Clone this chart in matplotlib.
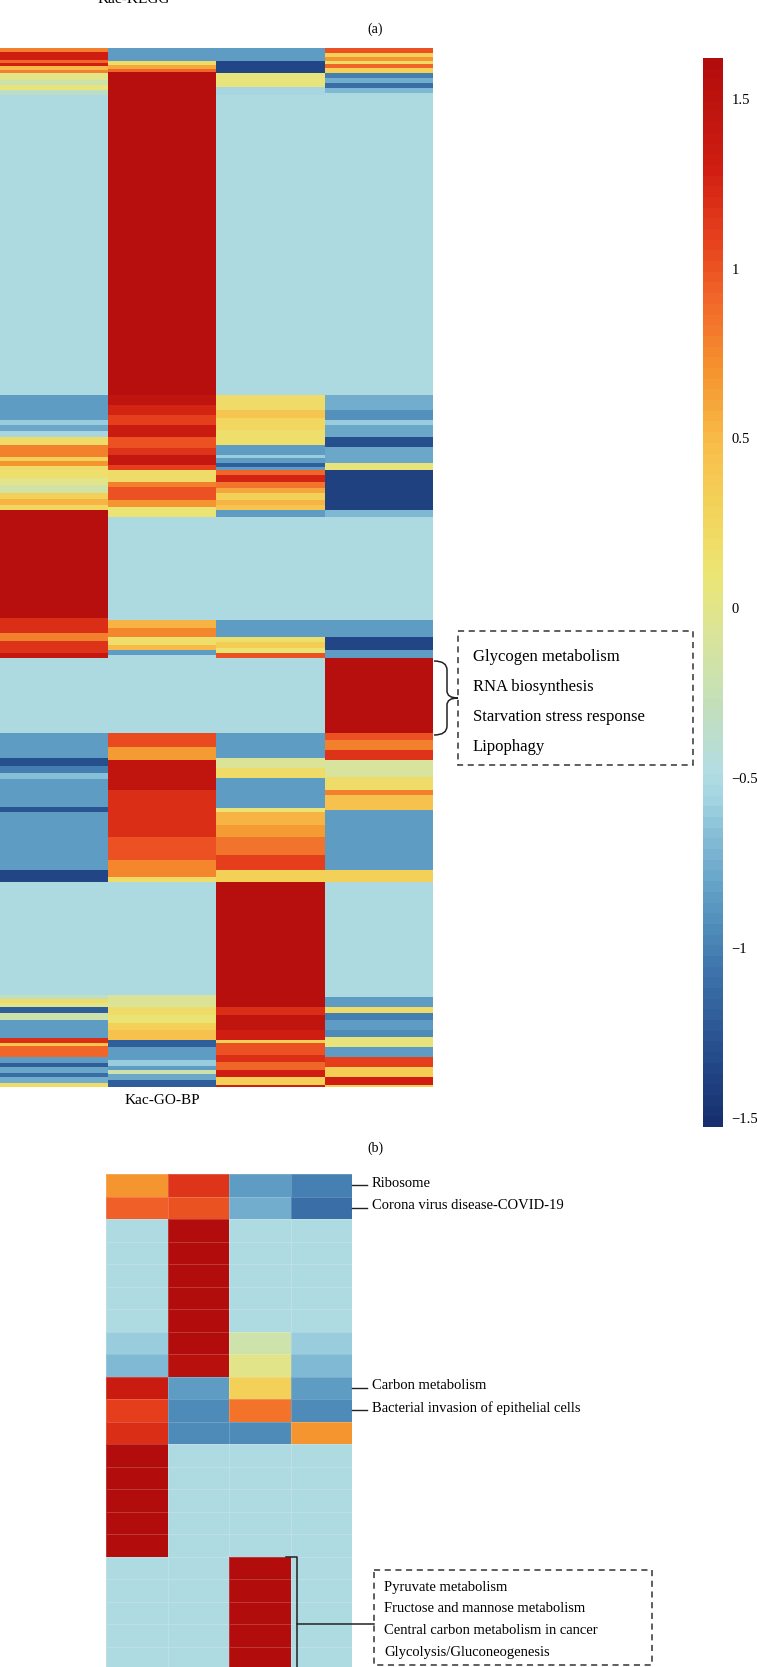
import matplotlib
matplotlib.use('Agg')
import matplotlib.pyplot as plt
import numpy as np
from matplotlib.colors import LinearSegmentedColormap, Normalize
from matplotlib.patches import Rectangle, PathPatch
from matplotlib.path import Path

plt.rcParams['font.family'] = ['Liberation Serif', 'DejaVu Serif']

# ---- panel (a): Kac-GO-BP, each cluster column as runs (end row, z-score) ----
a_ends_1 = [4, 12, 15, 18, 22, 25, 32, 37, 42, 47, 347, 372, 377, 383, 389, 397, 409, 413, 418, 422,
            430, 437, 445, 451, 457, 462, 570, 585, 593, 605, 610, 685, 710, 718, 725, 731, 759, 764,
            822, 834, 947, 951, 955, 959, 965, 972, 990, 995, 998, 1009, 1015, 1019, 1025, 1029, 1035, 1039]
a_vals_1 = [0.8, 1.3, 0.9, 1.3, 0.5, 0.8, 0.0, -0.2, 0.05, -0.35, -0.5, -0.85, -0.6, -0.8, -0.55, 0.2,
            0.8, 0.3, 0.7, 0.2, 0.15, 0.0, -0.15, 0.3, 0.55, 0.25, 1.55, 1.2, 0.8, 1.15, 1.4, -0.5, -0.85,
            -1.3, -1.0, -0.65, -0.85, -1.25, -0.85, -1.35, -0.5, -0.3, 0.2, 0.0, -1.2, -0.2, -0.85, 1.2,
            0.4, 0.9, -0.85, -1.2, -0.8, -1.1, -0.75, 0.2]

a_ends_2 = [13, 17, 21, 24, 347, 357, 367, 377, 389, 400, 407, 417, 422, 434, 439, 452, 459, 469, 572,
            580, 589, 597, 602, 607, 685, 699, 712, 742, 789, 812, 829, 834, 947, 959, 967, 975, 982,
            992, 999, 1012, 1018, 1022, 1026, 1032, 1039]
a_vals_2 = [-0.85, 0.2, 0.6, 0.9, 1.55, 1.45, 1.25, 1.1, 1.35, 1.0, 1.15, 1.4, 1.1, 0.2, 0.8, 1.0, 0.7,
            0.1, -0.5, 0.55, 0.75, 0.15, 0.5, -0.85, -0.5, 1.05, 0.65, 1.45, 1.2, 1.0, 0.75, 0.2, -0.5,
            -0.05, 0.2, 0.1, 0.3, 0.45, -1.2, -0.85, -0.6, -0.85, -0.2, -0.8, -1.2]

a_ends_3 = [13, 25, 39, 47, 347, 362, 370, 382, 397, 407, 410, 415, 419, 422, 427, 434, 440, 445, 452,
            457, 462, 469, 572, 589, 594, 600, 605, 610, 685, 710, 720, 730, 760, 764, 777, 789, 807,
            822, 834, 959, 967, 982, 992, 995, 1007, 1014, 1022, 1029, 1037, 1039]
a_vals_3 = [-0.85, -1.35, 0.05, -0.55, -0.5, 0.2, 0.4, 0.25, 0.15, -0.85, -0.6, -0.85, -1.2, -0.85,
            0.9, 1.25, 0.85, 0.6, 0.3, 0.55, 0.4, -0.85, -0.5, -0.85, 0.15, 0.35, 0.1, 1.0, -0.5, -0.85,
            -0.05, 0.2, -0.85, 0.1, 0.55, 0.65, 0.85, 1.1, 0.3, 1.55, 1.2, 1.45, 1.3, 0.3, 1.0, 1.2, 0.9,
            1.3, 0.3, 1.3]

a_ends_4 = [5, 9, 13, 16, 20, 25, 30, 35, 40, 45, 347, 362, 372, 377, 389, 399, 415, 422, 462, 469,
            572, 589, 602, 610, 685, 692, 702, 712, 729, 742, 747, 762, 822, 834, 949, 959, 965, 972,
            982, 989, 999, 1009, 1019, 1029, 1037, 1039]
a_vals_4 = [1.0, 0.3, 0.7, 0.2, 0.9, 0.3, -1.0, -0.75, -1.1, -0.7, -0.5, -0.75, -0.9, -0.6, -0.8, -1.3,
            -0.8, 0.05, -1.4, -0.7, -0.5, -0.85, -1.35, -0.85, 1.55, 1.0, 0.8, 1.15, -0.1, 0.2, 0.8, 0.45,
            -0.85, 0.3, -0.5, -0.85, 0.2, -1.0, -0.85, -0.95, 0.05, -0.85, 1.1, 0.35, 1.3, 0.3]

a_terms = ['Glycogen metabolism', 'RNA biosynthesis', 'Starvation stress response', 'Lipophagy']

# ---- panel (b): Kac-KEGG, one value per pathway row and cluster ----
b_col1 = [0.7, 0.95, -0.5, -0.5, -0.5, -0.5, -0.5, -0.6, -0.68, 1.35, 1.1, 1.2,
          1.6, 1.6, 1.6, 1.6, 1.6, -0.5, -0.5, -0.5, -0.5, -0.5, -0.5]
b_col2 = [1.15, 1.0, 1.6, 1.6, 1.6, 1.6, 1.6, 1.6, 1.55, -0.85, -0.95, -0.95,
          -0.5, -0.5, -0.5, -0.5, -0.5, -0.5, -0.5, -0.5, -0.5, -0.5, -0.5]
b_col3 = [-0.85, -0.75, -0.5, -0.5, -0.5, -0.5, -0.5, -0.2, 0.0, 0.3, 0.85, -0.95,
          -0.5, -0.5, -0.5, -0.5, -0.5, 1.6, 1.6, 1.6, 1.6, 1.6, 1.6]
b_col4 = [-1.0, -1.1, -0.5, -0.5, -0.5, -0.5, -0.5, -0.6, -0.68, -0.85, -0.95, 0.7,
          -0.5, -0.5, -0.5, -0.5, -0.5, -0.5, -0.5, -0.5, -0.5, -0.5, -0.5]
b_row_labels = ['Ribosome', 'Corona virus disease-COVID-19', 'Carbon metabolism',
                'Bacterial invasion of epithelial cells']
b_label_rows = [0, 1, 9, 10]
b_terms = ['Pyruvate metabolism', 'Fructose and mannose metabolism',
           'Central carbon metabolism in cancer', 'Glycolysis/Gluconeogenesis']

cbar_ticks = [-1.5, -1, -0.5, 0, 0.5, 1, 1.5]
cbar_labels = ['\u22121.5', '\u22121', '\u22120.5', '0', '0.5', '1', '1.5']

# colour scale (blue - light blue - yellow - red)
vmin, vmax = -1.527, 1.62
cm_nodes = [-1.527, -1.3, -1.1, -0.9, -0.7, -0.57, -0.48, -0.3, -0.1, 0.1, 0.3, 0.5, 0.7, 0.9, 1.1, 1.3, 1.62]
cm_cols = ['#172f6e', '#27508f', '#3a70a8', '#5795bf', '#7fb9d4', '#a3d4e0', '#b3dde2', '#c2dfbc',
           '#d8e49e', '#ece574', '#f3d35a', '#f8bb48', '#f5952f', '#f26a2a', '#e6401d', '#d01f12', '#b20c0c']
pos = [(v - vmin) / (vmax - vmin) for v in cm_nodes]
cmap = LinearSegmentedColormap.from_list('zs', list(zip(pos, cm_cols)), N=100)
norm = Normalize(vmin=vmin, vmax=vmax)

W, H = 757, 1667
fig = plt.figure(figsize=(W / 100, H / 100), dpi=100)

# panel (a) heatmap
cols_a = []
for ends, vals in [(a_ends_1, a_vals_1), (a_ends_2, a_vals_2), (a_ends_3, a_vals_3), (a_ends_4, a_vals_4)]:
    cols_a.append(np.repeat(vals, np.diff([0] + ends)))
A = np.column_stack(cols_a)
ax_a = fig.add_axes([0, 1 - 1087 / H, 433 / W, 1039 / H])
ax_a.imshow(A, aspect='auto', cmap=cmap, norm=norm, interpolation='nearest')
ax_a.axis('off')

# colour bar
cax = fig.add_axes([703 / W, 1 - 1127 / H, 20 / W, 1069 / H])
cb = fig.colorbar(plt.cm.ScalarMappable(norm=norm, cmap=cmap), cax=cax)
cb.outline.set_visible(False)
cb.set_ticks(cbar_ticks)
cb.set_ticklabels(cbar_labels)
cax.tick_params(length=0, pad=6, labelsize=10.5)

# panel (b) heatmap
B = np.column_stack([b_col1, b_col2, b_col3, b_col4])
b_top, b_rowh, b_left, b_right = 1174, 22.5, 106, 352
nb = len(b_col1)
ax_b = fig.add_axes([b_left / W, 1 - (b_top + nb * b_rowh) / H, (b_right - b_left) / W, nb * b_rowh / H])
ax_b.pcolormesh(B, cmap=cmap, norm=norm, edgecolors=(1, 1, 1, 0.18), linewidth=0.5)
ax_b.set_xlim(0, 4)
ax_b.set_ylim(nb, 0)
ax_b.axis('off')

# overlay in pixel units for labels and brackets
ov = fig.add_axes([0, 0, 1, 1])
ov.set_xlim(0, W)
ov.set_ylim(H, 0)
ov.axis('off')

ov.text(134, 3, 'Kac-KEGG', ha='center', va='baseline', fontsize=11)
ov.text(375, 29, '(a)', ha='center', va='center', fontsize=10)
ov.text(162, 1100, 'Kac-GO-BP', ha='center', va='center', fontsize=11)
ov.text(375, 1148, '(b)', ha='center', va='center', fontsize=10)

# brace and term box for panel (a)
x0, xm, xt, y0, y1, yc = 434, 447, 458, 661, 735, 698
verts = [(x0, y0), (xm, y0), (xm, y0 + 9), (xm, yc - 7), (xm, yc), (xt, yc),
         (xm, yc), (xm, yc + 7), (xm, y1 - 9), (xm, y1), (x0, y1)]
codes = [Path.MOVETO, Path.CURVE3, Path.CURVE3, Path.LINETO, Path.CURVE3, Path.CURVE3,
         Path.CURVE3, Path.CURVE3, Path.LINETO, Path.CURVE3, Path.CURVE3]
ov.add_patch(PathPatch(Path(verts, codes), fill=False, lw=1.1, color='#222222'))
ov.add_patch(Rectangle((458, 631), 235, 134, fill=False, ls=(0, (4, 3)), lw=1.1, ec='#333333'))
for i, t in enumerate(a_terms):
    ov.text(473, 657 + 30 * i, t, ha='left', va='center', fontsize=12)

# row labels for panel (b)
for r, t in zip(b_label_rows, b_row_labels):
    yy = b_top + (r + 0.5) * b_rowh
    ov.plot([b_right, 367], [yy, yy], color='#222222', lw=1)
    ov.text(372, yy - 2, t, ha='left', va='center', fontsize=10.5)

# bracket for the cluster 3 block and its box
yb = b_top + 17 * b_rowh
ov.plot([286, 297, 297], [yb, yb, H + 20], color='#222222', lw=1.1, clip_on=False)
ov.plot([297, 374], [b_top + 20 * b_rowh] * 2, color='#222222', lw=1.1)
ov.add_patch(Rectangle((374, 1570), 278, 95, fill=False, ls=(0, (4, 3)), lw=1.1, ec='#333333'))
for i, t in enumerate(b_terms):
    ov.text(384, 1587 + 21.7 * i, t, ha='left', va='center', fontsize=10.5)

fig.savefig('out.png', dpi=100)
